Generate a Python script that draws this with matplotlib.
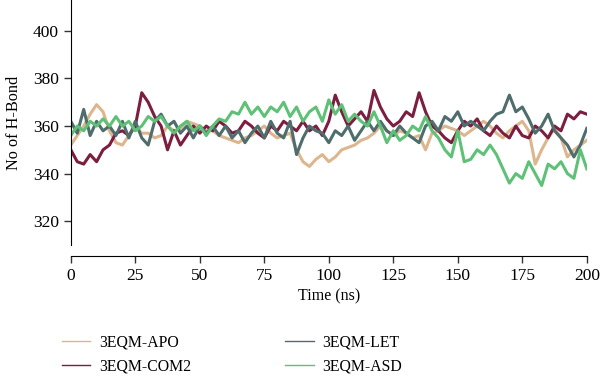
import matplotlib.pyplot as plt
import numpy as np

plt.rcParams['font.family'] = ['Liberation Serif', 'DejaVu Serif']

# time axis, one value every 2.5 ns
time = np.arange(0, 200.1, 2.5)

apo = [352, 356, 360, 365, 369, 366, 358, 353, 352, 356, 360, 357, 357, 355, 356, 360,
       358, 359, 362, 361, 360, 358, 358, 356, 355, 354, 353, 355, 356, 358, 360, 357,
       355, 356, 357, 350, 345, 343, 346, 348, 345, 347, 350, 351, 352, 354, 355, 357,
       360, 358, 356, 358, 357, 355, 356, 350, 357, 358, 360, 359, 358, 356, 358, 360,
       362, 360, 357, 355, 358, 360, 362, 358, 344, 350, 355, 359, 355, 347, 350, 352, 354]

com2 = [350, 345, 344, 348, 345, 350, 352, 357, 358, 356, 360, 374, 370, 364, 360, 350,
        358, 352, 356, 360, 357, 360, 358, 362, 360, 357, 358, 362, 360, 357, 355, 360,
        358, 362, 360, 358, 362, 358, 360, 356, 362, 373, 366, 360, 363, 366, 362, 375,
        368, 363, 360, 362, 366, 364, 374, 366, 360, 358, 355, 353, 358, 362, 360, 363,
        358, 356, 360, 357, 355, 360, 356, 355, 360, 358, 355, 360, 358, 365, 363, 366, 365]

let = [362, 357, 367, 356, 362, 358, 360, 356, 362, 355, 362, 355, 352, 362, 365, 360,
       362, 357, 360, 355, 360, 357, 360, 356, 360, 355, 358, 353, 357, 360, 355, 362,
       357, 355, 362, 348, 355, 360, 358, 357, 353, 358, 356, 360, 354, 358, 362, 358,
       362, 358, 356, 360, 357, 355, 353, 360, 362, 358, 364, 362, 366, 360, 362, 360,
       358, 362, 365, 366, 373, 366, 368, 363, 357, 360, 365, 358, 355, 352, 347, 352, 359]

asd = [356, 360, 358, 362, 360, 363, 360, 364, 360, 362, 358, 360, 364, 362, 364, 360,
       357, 360, 362, 358, 360, 356, 360, 363, 362, 366, 365, 370, 365, 368, 364, 368,
       366, 370, 364, 368, 362, 366, 368, 362, 371, 365, 369, 362, 365, 362, 360, 366,
       360, 353, 358, 354, 356, 360, 358, 364, 358, 355, 350, 347, 358, 345, 346, 350,
       348, 352, 348, 342, 336, 340, 338, 345, 340, 335, 344, 342, 345, 340, 338, 350, 342]

names = ['3EQM-APO', '3EQM-COM2', '3EQM-LET', '3EQM-ASD']
colors = ['#dcb68e', '#7b1e3f', '#4f6d6c', '#5fc177']

fig = plt.figure(figsize=(6, 3.78), dpi=100)
ax = fig.add_axes([0.118, 0.352, 0.860, 0.648])

for y, name, c in zip([apo, com2, let, asd], names, colors):
    ax.plot(time, y, color=c, lw=2.2, label=name, solid_joinstyle='round')

ax.set_xlim(0, 200)
ax.set_ylim(310, 413)
ax.set_xticks([0, 25, 50, 75, 100, 125, 150, 175, 200])
ax.set_yticks([320, 340, 360, 380, 400])
ax.tick_params(labelsize=12.5, length=5, color='#333333', width=1)
ax.spines['top'].set_visible(False)
ax.spines['right'].set_visible(False)
ax.spines['bottom'].set_position(('outward', 8))
ax.set_xlabel('Time (ns)', fontsize=11.5, labelpad=3)
ax.set_ylabel('No of H-Bond', fontsize=11.7, labelpad=8)

leg = fig.legend(ncol=2, loc='upper left', bbox_to_anchor=(0.08, 0.153),
                 frameon=False, fontsize=11.3, handlelength=1.8, handletextpad=0.55,
                 columnspacing=6.0, labelspacing=0.5)
for h in leg.get_lines():
    h.set_linewidth(1.0)

fig.savefig('out.png', dpi=100)
